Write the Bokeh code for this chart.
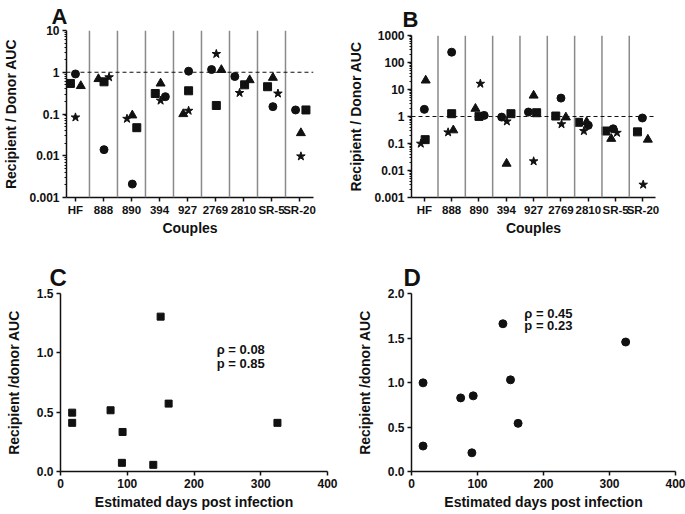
import numpy as np
from bokeh.plotting import figure
from bokeh.layouts import column, row
from bokeh.models import Range1d, FixedTicker, Span, Label, CustomJSTickFormatter, NumeralTickFormatter
from bokeh.embed import file_html
from bokeh.resources import INLINE

# ---------------- data ----------------
couples = ["HF", "888", "890", "394", "927", "2769", "2810", "SR-5", "SR-20"]

# Panel A
a_square = [0.54, 0.59, 0.047, 0.31, 0.36, 0.16, 0.50, 0.45, 0.125]
a_circle = [0.91, 0.014, 0.0021, 0.26, 1.06, 1.16, 0.79, 0.15, 0.125]
a_triangle = [0.47, 0.69, 0.093, 0.54, 0.10, 1.14, 0.65, 0.74, 0.035]
a_star = [0.083, 0.76, 0.077, 0.21, 0.12, 2.75, 0.32, 0.31, 0.0097]
a_square_jit = [-0.18, 0.02, 0.19, -0.15, 0.04, 0.03, 0.04, -0.14, 0.23]
a_circle_jit = [0.0, 0.02, 0.03, 0.21, 0.04, -0.14, -0.31, 0.05, -0.14]
a_triangle_jit = [0.19, -0.18, 0.03, 0.04, -0.15, 0.21, 0.22, 0.05, 0.05]
a_star_jit = [0.0, 0.2, -0.16, 0.04, 0.04, 0.03, -0.14, 0.23, 0.05]

# Panel B
b_square = [0.139, 1.27, 1.01, 1.27, 1.38, 1.04, 0.61, 0.29, 0.27]
b_circle = [1.84, 241, 1.1, 0.95, 1.46, 4.8, 0.47, 0.35, 0.88]
b_triangle = [21.7, 0.31, 1.95, 0.018, 6.0, 0.93, 0.63, 0.15, 0.14]
b_star = [0.099, 0.26, 16.4, 0.66, 0.022, 0.52, 0.29, 0.25, 0.003]
b_square_jit = [0.03, 0.0, 0.0, 0.17, 0.11, -0.19, -0.36, -0.36, -0.2]
b_circle_jit = [0.0, 0.0, 0.19, -0.17, -0.19, 0.0, 0.0, -0.09, -0.02]
b_triangle_jit = [0.05, 0.06, -0.13, 0.01, 0.0, 0.18, -0.06, -0.16, 0.18]
b_star_jit = [-0.13, -0.13, 0.05, 0.02, 0.0, 0.02, -0.16, 0.05, 0.01]

# Panel C
c_days = [17.5, 17.5, 75, 93, 92, 139, 150, 162, 325]
c_ratio = [0.496, 0.41, 0.516, 0.333, 0.073, 0.056, 1.305, 0.572, 0.41]
c_stats = ["\u03c1 = 0.08", "p = 0.85"]

# Panel D
d_days = [17.5, 17.5, 74.5, 93.5, 91.5, 138.5, 150, 161.5, 324.5]
d_ratio = [0.996, 0.286, 0.827, 0.85, 0.21, 1.66, 1.03, 0.541, 1.455]
d_stats = ["\u03c1 = 0.45", "p = 0.23"]

log_major = [0.001, 0.01, 0.1, 1, 10, 100, 1000]

FONT = "Liberation Sans"
INK = "#111111"


def base_fig(w, h, bl, br, bt, bb, letter, letter_size, offset, standoff, **kw):
    p = figure(width=w, height=h, output_backend="svg", toolbar_location=None, **kw)
    p.frame_align = False
    p.min_border_left = bl
    p.min_border_right = br
    p.min_border_top = bt
    p.min_border_bottom = bb
    p.outline_line_color = None
    p.xgrid.visible = False
    p.ygrid.visible = False
    p.background_fill_color = "white"
    p.border_fill_color = "white"
    p.title.text = letter
    p.title.text_font = FONT
    p.title.text_font_style = "bold"
    p.title.text_font_size = letter_size
    p.title.text_color = INK
    p.title.align = "left"
    p.title.offset = offset
    p.title.standoff = standoff
    return p


def style_axis(ax, label, tick_out=4, lab_standoff=2, label_standoff=3, minor=False, tick_size="12px"):
    ax.axis_label = label
    ax.axis_label_text_font = FONT
    ax.axis_label_text_font_style = "bold"
    ax.axis_label_text_font_size = "14px"
    ax.axis_label_text_color = INK
    ax.axis_label_standoff = label_standoff
    ax.major_label_text_font = FONT
    ax.major_label_text_font_style = "bold"
    ax.major_label_text_font_size = tick_size
    ax.major_label_text_color = INK
    ax.major_label_standoff = lab_standoff
    ax.axis_line_color = INK
    ax.axis_line_width = 1.5
    ax.major_tick_line_color = INK
    ax.major_tick_line_width = 1.5
    ax.major_tick_in = 0
    ax.major_tick_out = tick_out
    ax.minor_tick_in = 0
    ax.minor_tick_out = 2
    if minor:
        ax.minor_tick_line_color = INK
        ax.minor_tick_line_width = 1
    else:
        ax.minor_tick_line_color = None


def couple_panel(w, h, bl, br, bt, bb, xr, yr, series, ylabel, letter, offset, standoff):
    p = base_fig(w, h, bl, br, bt, bb, letter, "22px", offset, standoff, y_axis_type="log",
                 x_range=Range1d(*xr), y_range=Range1d(*yr))
    lo, hi = int(round(np.log10(yr[0]))), int(round(np.log10(yr[1])))
    majors = [t for t in log_major if yr[0] <= t <= yr[1]]
    minors = [m * 10.0 ** k for k in range(lo, hi) for m in range(2, 10)]
    p.yaxis.ticker = FixedTicker(ticks=majors, minor_ticks=minors)
    p.yaxis.formatter = CustomJSTickFormatter(code="return String(parseFloat(tick.toPrecision(3)))")
    p.xaxis.ticker = FixedTicker(ticks=list(range(len(couples))))
    p.xaxis.formatter = CustomJSTickFormatter(args=dict(labels=couples),
                                              code="const i = Math.round(tick); return labels[i] || '';")
    style_axis(p.yaxis[0], ylabel, tick_out=4, lab_standoff=3, label_standoff=7, minor=True)
    style_axis(p.xaxis[0], "Couples", tick_out=4, lab_standoff=2, label_standoff=1, tick_size="11.5px")
    # separators between couples
    for i in range(len(couples) - 1):
        p.add_layout(Span(location=i + 0.5, dimension="height", line_color="#8a8a8a", line_width=1.5))
    p.add_layout(Span(location=1, dimension="width", line_color=INK, line_width=1.2, line_dash="4 3"))
    idx = np.arange(len(couples))
    for vals, jit, marker, size in series:
        p.scatter(idx + np.array(jit), vals, marker=marker, size=size, color=INK, line_color=INK)
    return p


series_a = [(a_square, a_square_jit, "square", 8), (a_circle, a_circle_jit, "circle", 8),
            (a_triangle, a_triangle_jit, "triangle", 9), (a_star, a_star_jit, "star", 9)]
series_b = [(b_square, b_square_jit, "square", 8), (b_circle, b_circle_jit, "circle", 8),
            (b_triangle, b_triangle_jit, "triangle", 9), (b_star, b_star_jit, "star", 9)]

ROW1_H = 257
ROW2_H = 514 - ROW1_H

# Panel A (page x 0..345, y 0..257)
pA = couple_panel(345, ROW1_H, 63, 32, 30, ROW1_H - 197, (-0.32, 8.5), (0.001, 10), series_a,
                  "Recipient / Donor AUC", "A", -15, 3)

# Panel B (page x 345..685)
pB = couple_panel(340, ROW1_H, 65, 30, 35, ROW1_H - 197, (-0.47, 8.46), (0.001, 1000), series_b,
                  "Recipient / Donor AUC", "B", -9, 8)


def scatter_panel(w, h, bl, br, bt, bb, ymax, xs, ys, marker, size, stats, sx, sy, dsy,
                  letter, offset, standoff):
    p = base_fig(w, h, bl, br, bt, bb, letter, "24px", offset, standoff,
                 x_range=Range1d(0, 400), y_range=Range1d(0, ymax))
    p.xaxis.ticker = FixedTicker(ticks=[0, 100, 200, 300, 400])
    p.yaxis.ticker = FixedTicker(ticks=list(np.arange(0, ymax + 0.01, 0.5)))
    p.xaxis.formatter = NumeralTickFormatter(format="0")
    p.yaxis.formatter = NumeralTickFormatter(format="0.0")
    style_axis(p.xaxis[0], "Estimated days post infection", tick_out=4, lab_standoff=3, label_standoff=3)
    style_axis(p.yaxis[0], "Recipient /donor AUC", tick_out=4, lab_standoff=3, label_standoff=12)
    p.scatter(xs, ys, marker=marker, size=size, color=INK, line_color=INK)
    for k, t in enumerate(stats):
        p.add_layout(Label(x=sx, y=sy - k * dsy, text=t, text_font=FONT, text_font_style="bold",
                           text_font_size="13px", text_color=INK, text_baseline="alphabetic"))
    return p


# Panel C (page x 0..345, y 257..514)
pC = scatter_panel(345, ROW2_H, 60, 18, 293 - ROW1_H, 43, 1.5, c_days, c_ratio, "square", 7, c_stats,
                   234, 1.03, 0.118, "C", -11, 6)

# Panel D (page x 345..685)
pD = scatter_panel(340, ROW2_H, 66, 10, 293 - ROW1_H, 43, 2.0, d_days, d_ratio, "circle", 8, d_stats,
                   171, 1.78, 0.135, "D", -8, 6)

layout = column(row(pA, pB), row(pC, pD))

open("out.html", "w").write(file_html(layout, INLINE))
